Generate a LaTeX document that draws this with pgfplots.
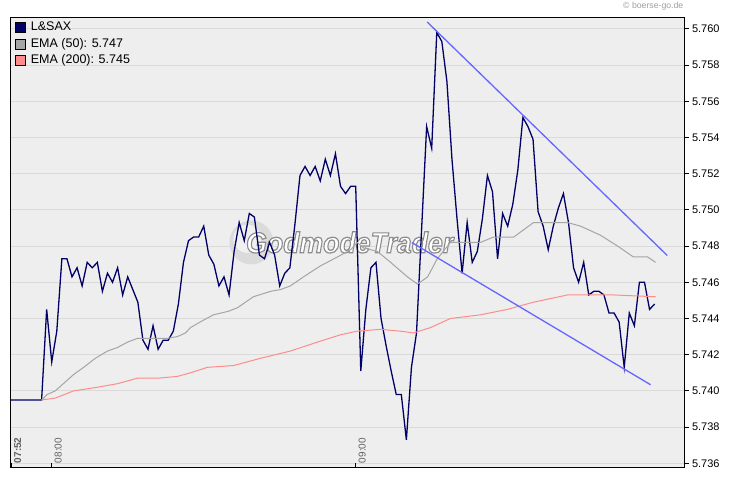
\documentclass[border=0pt]{standalone}
\usepackage{pgfplots}
\pgfplotsset{compat=1.18}
\usepackage{fontspec}
\setmainfont{Liberation Sans}
\definecolor{navyline}{RGB}{0,0,102}
\definecolor{emagray}{RGB}{165,165,165}
\definecolor{emasalmon}{RGB}{255,140,140}
\definecolor{trendblue}{RGB}{102,102,255}
\definecolor{plotbg}{RGB}{238,238,238}
\definecolor{gridc}{RGB}{218,218,218}
\definecolor{labgray}{RGB}{96,96,96}

\pgfplotstableread{
m v
0 5.7395
1 5.7395
2 5.7395
3 5.7395
4 5.7395
5 5.7395
6 5.7395
7 5.7445
8 5.7416
9 5.7433
10 5.7473
11 5.7473
12 5.7463
13 5.7468
14 5.7458
15 5.7471
16 5.7468
17 5.7471
18 5.7455
19 5.7465
20 5.7460
21 5.7468
22 5.7453
23 5.7463
24 5.7456
25 5.7449
26 5.7428
27 5.7423
28 5.7436
29 5.7423
30 5.7428
31 5.7428
32 5.7433
33 5.7448
34 5.7471
35 5.7483
36 5.7485
37 5.7485
38 5.7491
39 5.7475
40 5.7470
41 5.7458
42 5.7463
43 5.7453
44 5.7477
45 5.7493
46 5.7483
47 5.7498
48 5.7496
49 5.7475
50 5.7473
51 5.7482
52 5.7475
53 5.7458
54 5.7465
55 5.7468
56 5.7492
57 5.7519
58 5.7524
59 5.7519
60 5.7524
61 5.7516
62 5.7528
63 5.7519
64 5.7531
65 5.7513
66 5.7509
67 5.7513
68 5.7513
69 5.7411
70 5.7445
71 5.7468
72 5.7471
73 5.7440
74 5.7425
75 5.7411
76 5.7398
77 5.7398
78 5.7373
79 5.7413
80 5.7432
81 5.7489
82 5.7546
83 5.7534
84 5.7598
85 5.7593
86 5.7571
87 5.7528
88 5.7495
89 5.7465
90 5.7493
91 5.7471
92 5.7477
93 5.7495
94 5.7519
95 5.7510
96 5.7473
97 5.7498
98 5.7491
99 5.7503
100 5.7522
101 5.7551
102 5.7546
103 5.7539
104 5.7499
105 5.7491
106 5.7478
107 5.7491
108 5.7501
109 5.7509
110 5.7493
111 5.7468
112 5.7460
113 5.7471
114 5.7453
115 5.7455
116 5.7455
117 5.7453
118 5.7443
119 5.7443
120 5.7438
121 5.7413
122 5.7443
123 5.7436
124 5.7460
125 5.7460
126 5.7445
127 5.7448
}\price

\pgfplotstableread{
m v
6.0 5.7395
7.1 5.7398
8.7 5.7400
10.3 5.7404
12.3 5.7409
14.3 5.7413
16.6 5.7418
19.0 5.7422
21.0 5.7424
23.0 5.7427
24.9 5.7429
26.9 5.7429
28.9 5.7429
30.8 5.7429
32.8 5.7430
34.4 5.7432
35.4 5.7435
37.9 5.7439
39.9 5.7442
42.9 5.7444
44.7 5.7446
47.8 5.7452
51.2 5.7455
53.2 5.7456
55.1 5.7458
57.7 5.7463
61.0 5.7469
64.4 5.7474
67.0 5.7478
68.3 5.7482
69.5 5.7479
72.3 5.7477
74.9 5.7471
78.2 5.7463
80.2 5.7459
82.2 5.7463
84.1 5.7473
86.7 5.7482
88.1 5.7482
92.6 5.7482
95.2 5.7485
99.2 5.7485
103.1 5.7493
106.4 5.7493
109.8 5.7493
112.4 5.7491
116.3 5.7486
119.7 5.7480
122.8 5.7474
125.6 5.7474
127.2 5.7471
}\emafifty

\pgfplotstableread{
m v
6.0 5.7395
8.7 5.7396
12.3 5.7400
17.0 5.7402
21.0 5.7404
24.9 5.7407
28.9 5.7407
32.8 5.7408
35.4 5.7410
38.7 5.7413
43.9 5.7414
49.2 5.7418
55.1 5.7422
60.5 5.7427
65.0 5.7431
68.3 5.7433
72.9 5.7434
76.8 5.7433
79.4 5.7432
82.8 5.7435
86.7 5.7440
92.6 5.7442
97.9 5.7445
103.1 5.7449
109.8 5.7453
114.3 5.7453
118.9 5.7453
127.2 5.7452
}\ematwohundred

\begin{document}
\begin{tikzpicture}
\useasboundingbox (0,0) rectangle (730bp,481bp);
\fill[white] (0,0) rectangle (730bp,481bp);
\node[anchor=east, text=gray!75, font=\fontsize{8.7bp}{10bp}\selectfont, inner sep=0pt] at (683.5bp,474.3bp) {© boerse-go.de};
\begin{axis}[
  at={(10.7bp,13bp)}, anchor=south west, scale only axis,
  width=673.3bp, height=450bp,
  xmin=-0.1, xmax=132.8, ymin=5.73574, ymax=5.7606,
  axis background/.style={fill=plotbg},
  axis line style={black, line width=1bp},
  ymajorgrids, grid style={gridc, line width=0.8bp},
  ytick={5.736,5.738,5.740,5.742,5.744,5.746,5.748,5.750,5.752,5.754,5.756,5.758,5.760},
  ytick pos=right, yticklabel pos=right,
  scaled y ticks=false,
  yticklabel style={/pgf/number format/fixed, /pgf/number format/fixed zerofill, /pgf/number format/precision=3, /pgf/number format/assume math mode=true},
  yticklabel style={font=\fontsize{11bp}{13bp}\selectfont, text=black},
  xtick={0,8,68}, xticklabels={\textbf{07:52},08:00,09:00},
  xtick pos=left,
  tick align=outside, major tick length=4.5bp,
  xtick style={yshift=4.5bp, black, line width=0.8bp},
  ytick style={black, line width=0.8bp},
  xticklabel style={xshift=10bp, yshift=9.2bp, rotate=90, anchor=base west, inner sep=0pt, font=\fontsize{10bp}{12bp}\selectfont, text=labgray},
  legend style={at={(axis description cs:0,1)}, anchor=north west, draw=none, fill=none,
    font=\fontsize{12.5bp}{14bp}\selectfont, row sep=5bp, column sep=5bp, inner sep=0pt,
    xshift=4.3bp, yshift=-3.7bp, nodes={inner sep=0pt, text height=9bp, text depth=2.5bp}},
  legend cell align=left,
]
% watermark
\fill[gray!28] (axis cs:47.4,5.7482) circle[radius=22bp];
\fill[gray!12] (axis cs:46.6,5.7484) circle[radius=14bp];
\node[font=\fontsize{29bp}{30bp}\selectfont\bfseries\itshape, text=white, inner sep=0pt] at (axis cs:66.8,5.7482) {\scalebox{0.92}[1]{\special{pdf:code 2 Tr 0.55 0.55 0.55 RG 1.2 w}GodmodeTrader\special{pdf:code 0 Tr}}};

\addplot[navyline, line width=1.3bp, legend image code/.code={\draw[black,line width=0.7bp,fill=navyline] (0bp,-5bp) rectangle (10bp,5bp);}] table[x=m,y=v] {\price};
\addlegendentry{L\&SAX}
\addplot[emagray, line width=1bp, legend image code/.code={\draw[black,line width=0.7bp,fill=emagray] (0bp,-5bp) rectangle (10bp,5bp);}] table[x=m,y=v] {\emafifty};
\addlegendentry{EMA (50): 5.747}
\addplot[emasalmon, line width=1bp, legend image code/.code={\draw[black,line width=0.7bp,fill=emasalmon] (0bp,-5bp) rectangle (10bp,5bp);}] table[x=m,y=v] {\ematwohundred};
\addlegendentry{EMA (200): 5.745}
% trend lines
\addplot[trendblue, line width=1.3bp, forget plot] coordinates {(82.1,5.76038) (129.5,5.74748)};
\addplot[trendblue, line width=1.3bp, forget plot] coordinates {(79.1,5.74819) (126.2,5.74034)};
\end{axis}
\end{tikzpicture}
\end{document}
